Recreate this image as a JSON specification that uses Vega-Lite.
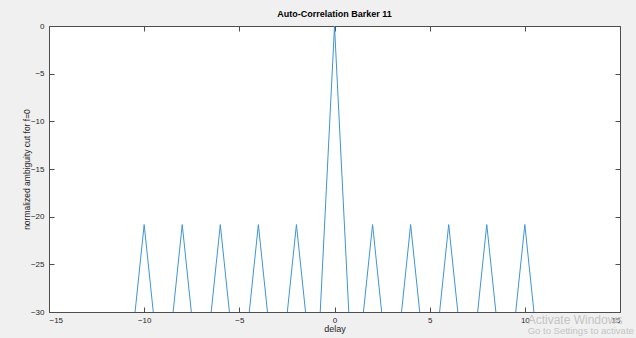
{
  "$schema": "https://vega.github.io/schema/vega-lite/v6.json",
  "width": 571,
  "height": 286,
  "autosize": {"type": "none"},
  "padding": {"left": 49, "top": 26, "right": 16, "bottom": 26},
  "background": "#f0f0f0",
  "config": {
    "view": {"fill": "white", "stroke": "#4d4d4d", "strokeWidth": 1},
    "font": "Liberation Sans",
    "axis": {
      "grid": false,
      "domain": false,
      "tickColor": "#4d4d4d",
      "tickSize": -5,
      "labelFontSize": 8,
      "labelColor": "#262626",
      "titleFontSize": 9,
      "titleFontWeight": "normal",
      "titleColor": "#262626"
    }
  },
  "title": {"text": "Auto-Correlation Barker 11", "fontSize": 9, "fontWeight": "bold", "color": "#000000", "offset": 3, "font": "Liberation Sans"},
  "datasets": {
    "cut": [
      {"delay": -11, "value": -40},
      {"delay": -10, "value": -20.83},
      {"delay": -9, "value": -40},
      {"delay": -8, "value": -20.83},
      {"delay": -7, "value": -40},
      {"delay": -6, "value": -20.83},
      {"delay": -5, "value": -40},
      {"delay": -4, "value": -20.83},
      {"delay": -3, "value": -40},
      {"delay": -2, "value": -20.83},
      {"delay": -1, "value": -40},
      {"delay": 0, "value": 0},
      {"delay": 1, "value": -40},
      {"delay": 2, "value": -20.83},
      {"delay": 3, "value": -40},
      {"delay": 4, "value": -20.83},
      {"delay": 5, "value": -40},
      {"delay": 6, "value": -20.83},
      {"delay": 7, "value": -40},
      {"delay": 8, "value": -20.83},
      {"delay": 9, "value": -40},
      {"delay": 10, "value": -20.83},
      {"delay": 11, "value": -40}
    ],
    "watermark": [
      {"delay": 10.15, "value": -30.85, "label": "Activate Windows", "size": 12},
      {"delay": 10.15, "value": -32.0, "label": "Go to Settings to activate Windows.", "size": 9.5}
    ]
  },
  "layer": [
    {
      "data": {"name": "cut"},
      "mark": {"type": "line", "clip": true, "color": "#3f94d4", "strokeWidth": 1},
      "encoding": {
        "x": {
          "field": "delay", "type": "quantitative",
          "scale": {"domain": [-15, 15], "nice": false, "zero": false},
          "axis": {"orient": "bottom", "values": [-15, -10, -5, 0, 5, 10, 15], "title": "delay", "labelPadding": 9, "titlePadding": 0}
        },
        "y": {
          "field": "value", "type": "quantitative",
          "scale": {"domain": [-30, 0], "nice": false, "zero": false},
          "axis": {"orient": "left", "values": [-30, -25, -20, -15, -10, -5, 0], "title": "normalized ambiguity cut for f=0", "titleFontSize": 8.5, "labelPadding": 10, "titlePadding": -1}
        }
      }
    },
    {
      "data": {"name": "cut"},
      "mark": {"type": "line", "opacity": 0},
      "encoding": {
        "x": {
          "field": "delay", "type": "quantitative",
          "scale": {"domain": [-15, 15], "nice": false, "zero": false},
          "axis": {"orient": "top", "values": [-15, -10, -5, 0, 5, 10, 15], "labels": false, "title": null}
        },
        "y": {
          "field": "value", "type": "quantitative",
          "scale": {"domain": [-30, 0], "nice": false, "zero": false},
          "axis": {"orient": "right", "values": [-30, -25, -20, -15, -10, -5, 0], "labels": false, "title": null}
        }
      }
    },
    {
      "data": {"name": "watermark"},
      "mark": {"type": "text", "align": "left", "baseline": "middle", "color": "#c4c4c4", "font": "Liberation Sans", "clip": false},
      "encoding": {
        "x": {"field": "delay", "type": "quantitative", "scale": {"domain": [-15, 15], "nice": false, "zero": false}, "axis": null},
        "y": {"field": "value", "type": "quantitative", "scale": {"domain": [-30, 0], "nice": false, "zero": false}, "axis": null},
        "text": {"field": "label"},
        "size": {"field": "size", "type": "quantitative", "scale": null}
      }
    }
  ],
  "resolve": {"axis": {"x": "independent", "y": "independent"}}
}
